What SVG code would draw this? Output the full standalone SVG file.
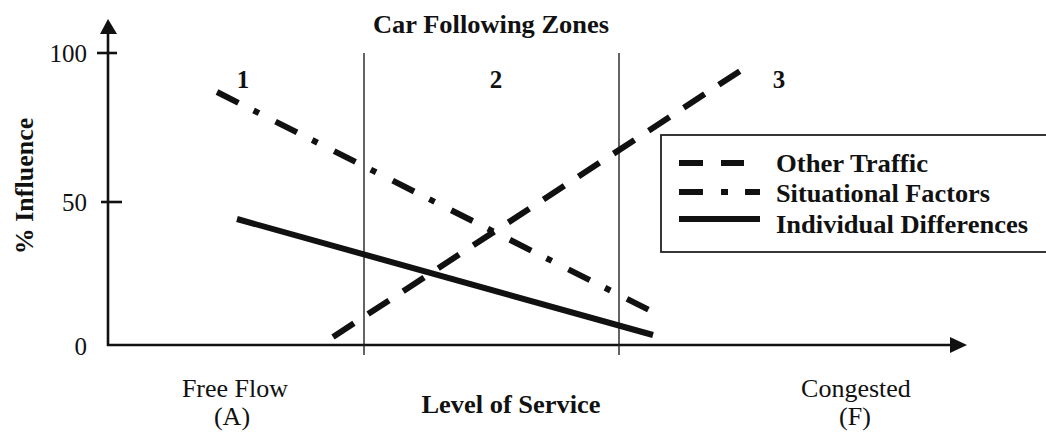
<svg xmlns="http://www.w3.org/2000/svg" width="1046" height="432" viewBox="0 0 1046 432">
  <style>
    .serif { font-family: "Liberation Serif", "Times New Roman", serif; fill: #111; }
    .bold { font-weight: bold; }
    .axis { stroke: #111; stroke-width: 2.6; fill: none; }
    .zone { stroke: #222; stroke-width: 1.4; fill: none; }
    .series { stroke: #111; stroke-width: 6; fill: none; stroke-linecap: butt; }
    .traffic { stroke-dasharray: 25 16.9; }
    .situational { stroke-dasharray: 24 17 6 18.6; }
  </style>
  <rect width="1046" height="432" fill="#fff"/>

  <!-- axes with arrowheads and ticks -->
  <g id="axes">
    <line class="axis" x1="108" y1="32" x2="108" y2="346"/>
    <line class="axis" x1="107" y1="345" x2="952" y2="345"/>
    <polygon points="108,19 100,34 117,34" fill="#111"/>
    <polygon points="967,345 950,337 950,353" fill="#111"/>
    <line class="axis" x1="97" y1="53" x2="117" y2="53" stroke-width="2.2"/>
    <line class="axis" x1="101" y1="202" x2="122" y2="202" stroke-width="2.2"/>
    <text class="serif" x="87" y="62" font-size="25" text-anchor="end">100</text>
    <text class="serif" x="87" y="211" font-size="25" text-anchor="end">50</text>
    <text class="serif" x="87" y="355" font-size="25" text-anchor="end">0</text>
    <text class="serif bold" font-size="26" text-anchor="middle" transform="translate(33,186) rotate(-90)">% Influence</text>
    <text class="serif" x="235" y="397" font-size="26" text-anchor="middle">Free Flow</text>
    <text class="serif" x="232" y="425" font-size="26" text-anchor="middle">(A)</text>
    <text class="serif bold" x="511" y="413" font-size="26" text-anchor="middle" textLength="179" lengthAdjust="spacingAndGlyphs">Level of Service</text>
    <text class="serif" x="856" y="397" font-size="26" text-anchor="middle">Congested</text>
    <text class="serif" x="855" y="425" font-size="26" text-anchor="middle">(F)</text>
  </g>

  <!-- car following zones -->
  <g id="zones">
    <text class="serif bold" x="491" y="33" font-size="26" text-anchor="middle" textLength="236" lengthAdjust="spacingAndGlyphs">Car Following Zones</text>
    <line class="zone" x1="364" y1="53" x2="364" y2="355"/>
    <line class="zone" x1="619" y1="53" x2="619" y2="355"/>
    <text class="serif bold" x="243" y="88" font-size="25" text-anchor="middle">1</text>
    <text class="serif bold" x="496" y="88" font-size="25" text-anchor="middle">2</text>
    <text class="serif bold" x="779" y="88" font-size="25" text-anchor="middle">3</text>
  </g>

  <!-- influence curves -->
  <g id="series">
    <line id="individual-differences" class="series" x1="237" y1="219" x2="653" y2="335"/>
    <line id="situational-factors" class="series situational" x1="217" y1="92" x2="649" y2="310"/>
    <line id="other-traffic" class="series traffic" x1="333" y1="337" x2="740" y2="71"/>
  </g>

  <!-- legend (box runs past the right edge of the canvas) -->
  <g id="legend">
    <rect x="661" y="135" width="400" height="117" fill="#fff" stroke="#222" stroke-width="1.8"/>
    <line class="series" x1="679" y1="163" x2="703" y2="163"/>
    <line class="series" x1="721" y1="163" x2="744" y2="163"/>
    <line class="series" x1="679" y1="192" x2="703" y2="192"/>
    <line class="series" x1="721" y1="192" x2="728" y2="192"/>
    <line class="series" x1="745" y1="192" x2="760" y2="192"/>
    <line class="series" x1="679" y1="219" x2="760" y2="219"/>
    <text class="serif bold" x="776" y="172" font-size="26" textLength="152" lengthAdjust="spacingAndGlyphs">Other Traffic</text>
    <text class="serif bold" x="776" y="202" font-size="26" textLength="214" lengthAdjust="spacingAndGlyphs">Situational Factors</text>
    <text class="serif bold" x="776" y="233" font-size="26" textLength="252" lengthAdjust="spacingAndGlyphs">Individual Differences</text>
  </g>
</svg>
